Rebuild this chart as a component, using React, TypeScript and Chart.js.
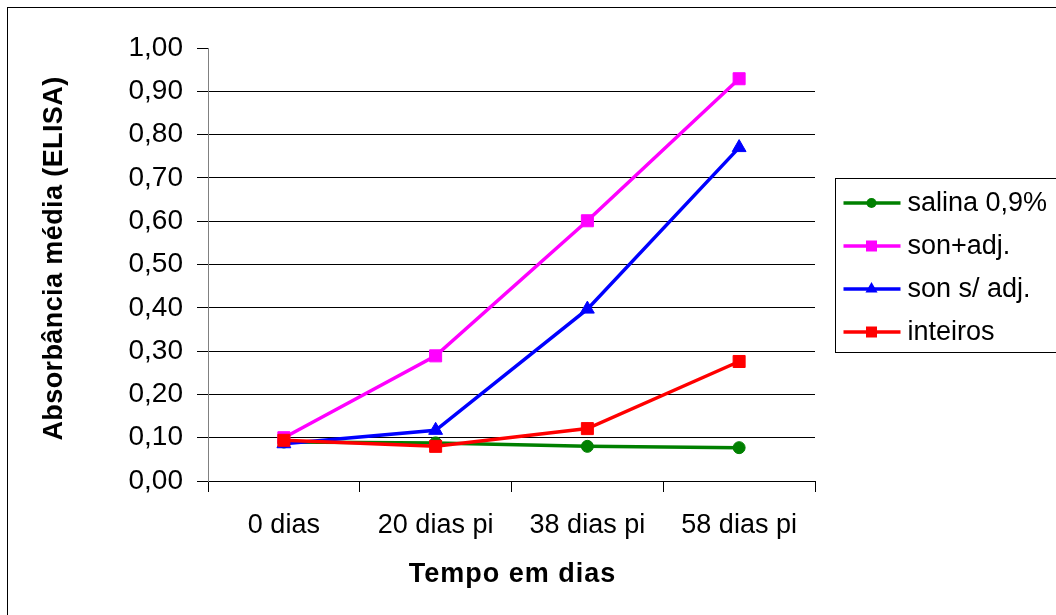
import React, { useEffect, useRef } from 'react';
import { Chart, registerables } from 'chart.js';

Chart.register(...registerables);

const categories = ['0 dias', '20 dias pi', '38 dias pi', '58 dias pi'];
const salina = [0.09, 0.088, 0.08, 0.077];
const sonAdj = [0.1, 0.289, 0.601, 0.929];
const sonSemAdj = [0.086, 0.117, 0.397, 0.77];
const inteiros = [0.094, 0.08, 0.121, 0.276];

const seriesNames = ['salina 0,9%', 'son+adj.', 'son s/ adj.', 'inteiros'];
const seriesColors = ['#008000', '#FF00FF', '#0000FF', '#FF0000'];
const seriesPointStyles = ['circle', 'rect', 'triangle', 'rect'];
const seriesPointRadius = [6, 8.5, 8, 8.5];

const yAxisTitle = 'Absorbância média (ELISA)';
const xAxisTitle = 'Tempo em dias';
const yMin = 0;
const yMax = 1;
const yStep = 0.1;

const FONT = 'Arial, "Liberation Sans", Helvetica, sans-serif';

function drawMarker(ctx: CanvasRenderingContext2D, style: string, x: number, y: number, r: number) {
  ctx.beginPath();
  if (style === 'circle') {
    ctx.arc(x, y, r, 0, Math.PI * 2);
  } else if (style === 'rect') {
    ctx.rect(x - r, y - r, 2 * r, 2 * r);
  } else {
    ctx.moveTo(x, y - r);
    ctx.lineTo(x + r * Math.sin((2 * Math.PI) / 3), y + r * 0.5);
    ctx.lineTo(x - r * Math.sin((2 * Math.PI) / 3), y + r * 0.5);
    ctx.closePath();
  }
  ctx.fill();
}

const decorPlugin = {
  id: 'decor',
  afterDraw(chart: any) {
    const ctx: CanvasRenderingContext2D = chart.ctx;
    const area = chart.chartArea;
    ctx.save();
    // outer frame
    ctx.strokeStyle = '#000';
    ctx.lineWidth = 1;
    ctx.strokeRect(7.5, 7.5, 1300, 900);

    // axis titles
    ctx.fillStyle = '#000';
    ctx.font = 'bold 27px ' + FONT;
    ctx.textAlign = 'center';
    ctx.textBaseline = 'middle';
    ctx.save();
    ctx.translate(55, (area.top + area.bottom) / 2 - 6);
    ctx.rotate(-Math.PI / 2);
    (ctx as any).letterSpacing = '0.4px';
    ctx.fillText(yAxisTitle, 0, 0);
    (ctx as any).letterSpacing = '0px';
    ctx.restore();
    (ctx as any).letterSpacing = '1px';
    ctx.fillText(xAxisTitle, (area.left + area.right) / 2 + 1, area.bottom + 94);
    (ctx as any).letterSpacing = '0px';

    // legend
    const boxLeft = area.right + 20.5;
    const boxTop = 178.5;
    ctx.strokeStyle = '#000';
    ctx.lineWidth = 1;
    ctx.strokeRect(boxLeft, boxTop, 400, 174);
    ctx.font = '27px ' + FONT;
    ctx.textAlign = 'left';
    const itemY0 = 203;
    const itemGap = 43;
    chart.data.datasets.forEach((ds: any, i: number) => {
      const y = itemY0 + i * itemGap;
      ctx.strokeStyle = ds.borderColor;
      ctx.lineWidth = 3.5;
      ctx.beginPath();
      ctx.moveTo(boxLeft + 8, y);
      ctx.lineTo(boxLeft + 65, y);
      ctx.stroke();
      ctx.fillStyle = ds.borderColor;
      const st = seriesPointStyles[i];
      drawMarker(ctx, st, boxLeft + 36, y, st === 'circle' ? 5 : st === 'rect' ? 5.5 : 7);
      ctx.fillStyle = '#000';
      ctx.fillText(ds.label, boxLeft + 72, y + 1);
    });
    ctx.restore();
  },
};

export default function App() {
  const canvasRef = useRef<HTMLCanvasElement | null>(null);

  useEffect(() => {
    if (!canvasRef.current) return;
    const seriesData = [salina, sonAdj, sonSemAdj, inteiros];
    const chart = new Chart(canvasRef.current, {
      type: 'line',
      data: {
        labels: categories,
        datasets: seriesData.map((d, i) => ({
          label: seriesNames[i],
          data: d,
          borderColor: seriesColors[i],
          backgroundColor: seriesColors[i],
          pointBackgroundColor: seriesColors[i],
          pointBorderColor: seriesColors[i],
          pointBorderWidth: 1,
          pointStyle: seriesPointStyles[i] as any,
          pointRadius: seriesPointRadius[i],
          borderWidth: 3.5,
          tension: 0,
          fill: false,
          order: seriesData.length - i,
        })),
      },
      options: {
        responsive: false,
        devicePixelRatio: 1,
        animation: false,
        layout: { padding: { left: 0, top: 48, right: 241, bottom: 0 } },
        plugins: {
          legend: { display: false },
          tooltip: { enabled: false },
        },
        scales: {
          x: {
            type: 'category',
            offset: true,
            afterFit: (s: any) => {
              s.height = 134;
            },
            grid: {
              offset: true,
              drawOnChartArea: false,
              drawTicks: true,
              tickLength: 11,
              color: '#000',
              tickColor: '#000',
            },
            border: { display: true, color: '#000', width: 1 },
            ticks: {
              color: '#000',
              font: { family: FONT, size: 27 },
              padding: 17,
              maxRotation: 0,
              autoSkip: false,
            },
          },
          y: {
            min: yMin,
            max: yMax,
            afterFit: (s: any) => {
              s.width = 208;
            },
            grid: {
              color: (c: any) => (c.tick && c.tick.value > yMax - 1e-6 ? 'rgba(0,0,0,0)' : '#000'),
              tickColor: '#000',
              tickLength: 11,
              lineWidth: 1,
            },
            border: { display: true, color: '#808080', width: 1 },
            ticks: {
              stepSize: yStep,
              color: '#000',
              font: { family: FONT, size: 28 },
              padding: 14,
              callback: (v: any) => Number(v).toFixed(2).replace('.', ','),
            },
          },
        },
      },
      plugins: [decorPlugin],
    });
    return () => chart.destroy();
  }, []);

  return (
    <div style={{ position: 'absolute', left: 0, top: 0, width: 1056, height: 615, background: '#fff' }}>
      <canvas ref={canvasRef} width={1056} height={615} style={{ display: 'block' }} />
    </div>
  );
}
